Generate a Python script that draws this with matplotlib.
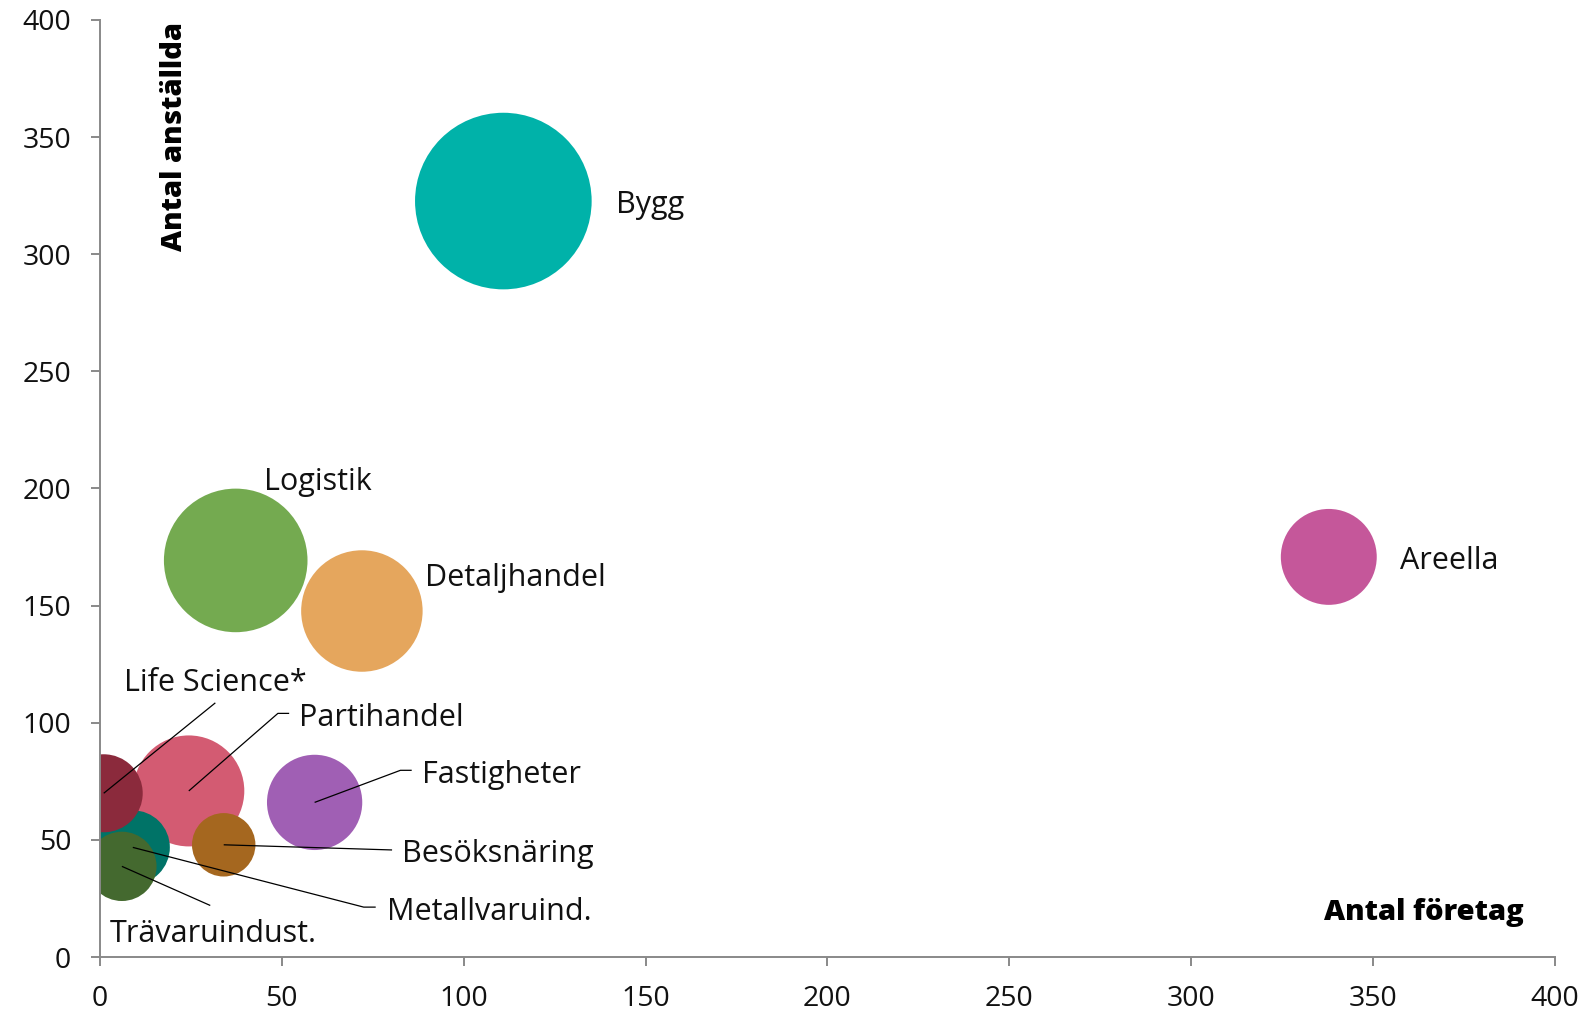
import matplotlib
matplotlib.use("Agg")
import matplotlib.pyplot as plt

plt.rcParams['font.family'] = ['Open Sans', 'DejaVu Sans']

# ---- data ----
branscher = ["Partihandel", "Metallvaruind.", "Life Science*", "Trävaruindust.",
             "Besöksnäring", "Fastigheter", "Detaljhandel", "Logistik", "Bygg", "Areella"]
antal_foretag = [24.4, 9, 1, 6, 34, 59, 72, 37.3, 110.9, 337.9]
antal_anstallda = [70.9, 46.8, 69.9, 38.7, 47.9, 66, 147.7, 169.3, 322.7, 170.8]
bubbelstorlek = [39.5, 17.6, 19.5, 15.4, 12.9, 29.1, 47.3, 66.1, 100, 29.5]
farger = ["#D35B72", "#007367", "#8B2A3C", "#44692F", "#A5671F",
          "#A05FB4", "#E5A65D", "#74AA50", "#00B2A9", "#C5579A"]

x_ticks = [0, 50, 100, 150, 200, 250, 300, 350, 400]
y_ticks = [0, 50, 100, 150, 200, 250, 300, 350, 400]

# label placement (text anchor, baseline) and leader line points
etiketter = {
    "Bygg": ((141.9, 317.5), None),
    "Areella": ((357.5, 165.5), None),
    "Logistik": ((45.1, 199.5), None),
    "Detaljhandel": ((89.3, 158.5), None),
    "Life Science*": ((6.5, 113.7), [(31.7, 108.5)]),
    "Partihandel": ((54.8, 98.7), [(48.9, 104), (52, 104)]),
    "Fastigheter": ((88.5, 74.4), [(82.6, 79.7), (85.7, 79.7)]),
    "Besöksnäring": ((83.1, 40.7), [(80.3, 45.7)]),
    "Metallvaruind.": ((78.8, 15.8), [(72.5, 21.3), (75.8, 21.3)]),
    "Trävaruindust.": ((2.6, 6.5), [(30.3, 22)]),
}

fig = plt.figure(figsize=(15.86, 10.14), dpi=100)
ax = fig.add_axes([0.0631, 0.0562, 0.9171, 0.9241])

scale = 161.7
ax.scatter(antal_foretag, antal_anstallda, s=[b * scale for b in bubbelstorlek],
           c=farger, linewidths=0, zorder=2)

for name, xv, yv in zip(branscher, antal_foretag, antal_anstallda):
    (tx, ty), pts = etiketter[name]
    if pts:
        xs = [xv] + [p[0] for p in pts]
        ys = [yv] + [p[1] for p in pts]
        ax.plot(xs, ys, color="black", lw=0.9, zorder=3, solid_capstyle="butt")
    ax.text(tx, ty, name, fontsize=22, color="#111111", ha="left", va="baseline", zorder=4)

ax.text(391.4, 19.2, "Antal företag", fontsize=21, fontweight="heavy", color="black",
        ha="right", va="center")
ax.text(20.6, 399.3, "Antal anställda", fontsize=21, fontweight="heavy", color="black",
        ha="center", va="top", rotation=90)

ax.set_xlim(0, 400)
ax.set_ylim(0, 400)
ax.set_xticks(x_ticks)
ax.set_yticks(y_ticks)
for s in ["top", "right"]:
    ax.spines[s].set_visible(False)
for s in ["left", "bottom"]:
    ax.spines[s].set_color("#898989")
    ax.spines[s].set_linewidth(1.4)
ax.tick_params(axis="both", colors="#898989", width=1.4, length=6.8,
               labelsize=20.5, labelcolor="#111111")
ax.tick_params(axis="x", pad=13)
ax.tick_params(axis="y", pad=14)

fig.savefig("out.png", dpi=100)
